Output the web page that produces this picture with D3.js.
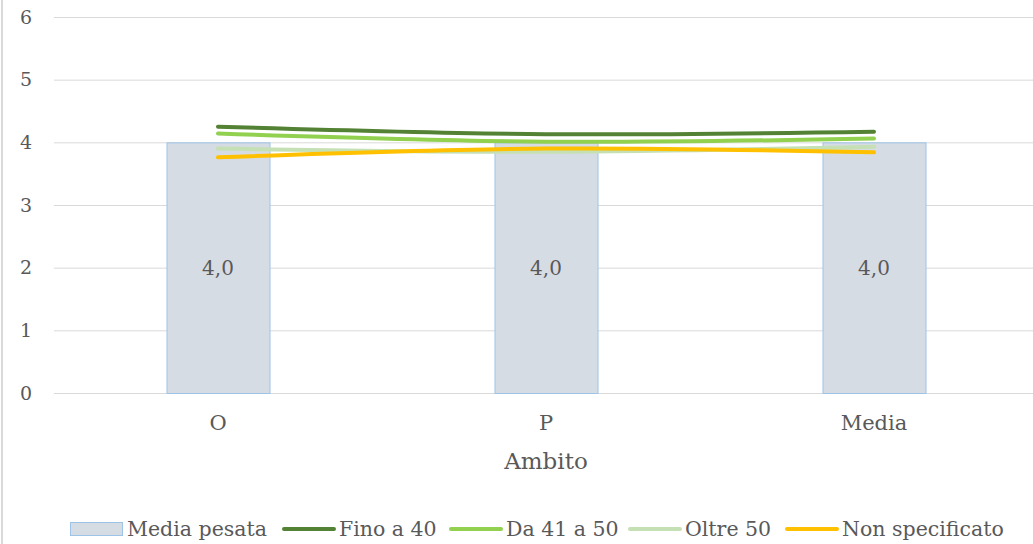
<!DOCTYPE html>
<html lang="it">
<head>
<meta charset="utf-8">
<title>Media pesata per ambito</title>
<script src="https://d3js.org/d3.v7.min.js"></script>
<style>
  body { margin: 0; background: #fff; }
  svg { display: block; font-family: 'DejaVu Serif', serif; }
  .tick-lab { fill: #595959; font-size: 19px; }
  .cat-lab { fill: #595959; font-size: 21px; }
  .leg-lab { fill: #595959; font-size: 20.5px; }
</style>
</head>
<body>
<svg id="chart" width="1033" height="544"></svg>
<script>
// data
var categories = ["O", "P", "Media"];
var mediaPesata = [4.0, 4.0, 4.0];
var fino40 = [4.25, 4.13, 4.17];
var da41a50 = [4.14, 4.01, 4.06];
var oltre50 = [3.90, 3.85, 3.93];
var nonSpecificato = [3.76, 3.90, 3.84];
var yTicks = [0, 1, 2, 3, 4, 5, 6];

var series = [
  {name: "Fino a 40", values: fino40, color: "#548235"},
  {name: "Da 41 a 50", values: da41a50, color: "#92D050"},
  {name: "Oltre 50", values: oltre50, color: "#C5E0B4"},
  {name: "Non specificato", values: nonSpecificato, color: "#FFC000"}
];

var svg = d3.select("#chart");

var x = d3.scaleBand()
    .domain(categories)
    .range([54, 1038])
    .paddingInner(0.686)
    .paddingOuter(0.343);

var y = d3.scaleLinear()
    .domain([0, 6])
    .range([393, 17]);

// left frame line
svg.append("line")
    .attr("x1", 2).attr("x2", 2)
    .attr("y1", 0).attr("y2", 544)
    .attr("stroke", "#d9d9d9")
    .attr("stroke-width", 2);

// grid
svg.append("g").selectAll("line")
    .data(yTicks)
    .enter().append("line")
    .attr("x1", 54).attr("x2", 1033)
    .attr("y1", function(d) { return y(d) + 0.5; })
    .attr("y2", function(d) { return y(d) + 0.5; })
    .attr("stroke", "#d9d9d9")
    .attr("stroke-width", 1);

// y tick labels
svg.append("g").selectAll("text")
    .data(yTicks)
    .enter().append("text")
    .attr("class", "tick-lab")
    .attr("x", 32)
    .attr("y", function(d) { return y(d); })
    .attr("dy", "0.35em")
    .attr("text-anchor", "end")
    .text(function(d) { return d; });

// bars
svg.append("g").selectAll("rect")
    .data(mediaPesata)
    .enter().append("rect")
    .attr("x", function(d, i) { return x(categories[i]) + 0.5; })
    .attr("y", function(d) { return y(d) + 0.5; })
    .attr("width", x.bandwidth())
    .attr("height", function(d) { return y(0) - y(d); })
    .attr("fill", "#d6dce4")
    .attr("stroke", "#9dc3e6")
    .attr("stroke-width", 1);

// bar labels
svg.append("g").selectAll("text")
    .data(mediaPesata)
    .enter().append("text")
    .attr("class", "tick-lab")
    .attr("x", function(d, i) { return x(categories[i]) + x.bandwidth() / 2; })
    .attr("y", function(d) { return (y(d) + y(0)) / 2; })
    .attr("dy", "0.35em")
    .attr("text-anchor", "middle")
    .style("font-size", "20px")
    .text(function(d) { return d3.format(".1f")(d).replace(".", ","); });

// lines
var line = d3.line()
    .x(function(d, i) { return x(categories[i]) + x.bandwidth() / 2; })
    .y(function(d) { return y(d); })
    .curve(d3.curveCatmullRom.alpha(0.5));

svg.append("g").selectAll("path")
    .data(series)
    .enter().append("path")
    .attr("d", function(s) { return line(s.values); })
    .attr("fill", "none")
    .attr("stroke", function(s) { return s.color; })
    .attr("stroke-width", 4)
    .attr("stroke-linecap", "round");

// category labels
svg.append("g").selectAll("text")
    .data(categories)
    .enter().append("text")
    .attr("class", "cat-lab")
    .attr("x", function(d) { return x(d) + x.bandwidth() / 2; })
    .attr("y", 430)
    .attr("text-anchor", "middle")
    .text(function(d) { return d; });

// axis title
svg.append("text")
    .attr("class", "cat-lab")
    .attr("x", 546)
    .attr("y", 469)
    .attr("text-anchor", "middle")
    .style("font-size", "23px")
    .text("Ambito");

// legend
var legendItems = [{name: "Media pesata", type: "bar"}].concat(series.map(function(s) {
  return {name: s.name, type: "line", color: s.color};
}));
var legendX = [70, 282, 449, 628, 785];

var leg = svg.append("g").selectAll("g")
    .data(legendItems)
    .enter().append("g")
    .attr("transform", function(d, i) { return "translate(" + legendX[i] + ",529)"; });

leg.filter(function(d) { return d.type == "bar"; })
    .append("rect")
    .attr("x", 0.5).attr("y", -6.5)
    .attr("width", 52).attr("height", 13)
    .attr("fill", "#d6dce4")
    .attr("stroke", "#9dc3e6");

leg.filter(function(d) { return d.type == "line"; })
    .append("line")
    .attr("x1", 2).attr("x2", 52)
    .attr("y1", 0).attr("y2", 0)
    .attr("stroke", function(d) { return d.color; })
    .attr("stroke-width", 4)
    .attr("stroke-linecap", "round");

leg.append("text")
    .attr("class", "leg-lab")
    .attr("x", 57)
    .attr("y", 0)
    .attr("dy", "0.35em")
    .text(function(d) { return d.name; });
</script>
</body>
</html>
